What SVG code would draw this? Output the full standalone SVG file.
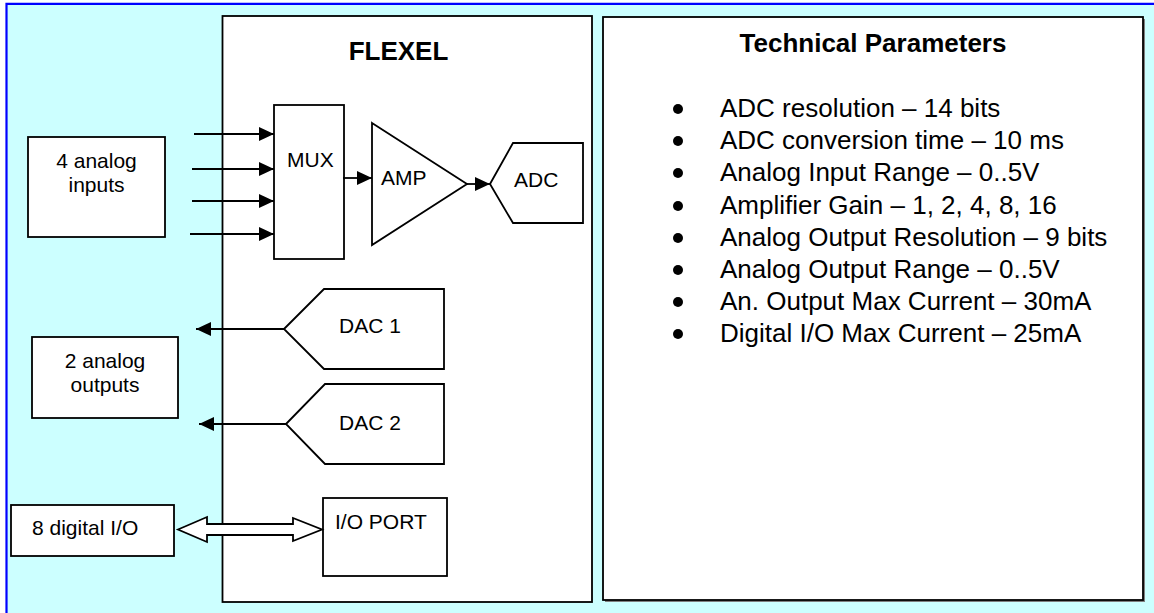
<svg xmlns="http://www.w3.org/2000/svg" width="1154" height="613" viewBox="0 0 1154 613">
<style>
.box{fill:#fff;stroke:#000;stroke-width:1.8}
.t{font-family:"Liberation Sans",Arial,sans-serif;font-size:21px;fill:#000}
.h{font-family:"Liberation Sans",Arial,sans-serif;font-size:26px;font-weight:bold;fill:#000}
.li{font-family:"Liberation Sans",Arial,sans-serif;font-size:26px;fill:#000}
.c{fill:none;stroke:#000;stroke-width:1.8}
</style>
<defs>
<marker id="ah" markerUnits="userSpaceOnUse" markerWidth="15" markerHeight="14" refX="15" refY="7" orient="auto">
<path d="M0,0 L15,7 L0,14 z" fill="#000"/>
</marker>
</defs>
<rect x="0" y="0" width="1154" height="613" fill="#fff"/>
<rect x="7" y="4" width="1147" height="609" fill="#CCFFFF"/>
<path d="M6.5,613 V3.8 H1154" fill="none" stroke="#0000FF" stroke-width="2.2"/>

<g id="flexel">
<rect class="box" x="222.5" y="16" width="369.5" height="586"/>
<text class="h" x="398.5" y="60" text-anchor="middle">FLEXEL</text>
</g>

<g id="tech">
<rect x="605" y="19" width="540" height="583" fill="#808080"/>
<rect class="box" x="603" y="17" width="540" height="583"/>
<text class="h" x="873" y="52" text-anchor="middle">Technical Parameters</text>
<g fill="#000">
<circle cx="678" cy="109" r="5"/>
<circle cx="678" cy="141" r="5"/>
<circle cx="678" cy="173" r="5"/>
<circle cx="678" cy="206" r="5"/>
<circle cx="678" cy="238" r="5"/>
<circle cx="678" cy="270" r="5"/>
<circle cx="678" cy="302" r="5"/>
<circle cx="678" cy="334" r="5"/>
</g>
<text class="li" x="720" y="117">ADC resolution – 14 bits</text>
<text class="li" x="720" y="149">ADC conversion time – 10 ms</text>
<text class="li" x="720" y="181">Analog Input Range – 0..5V</text>
<text class="li" x="720" y="214">Amplifier Gain – 1, 2, 4, 8, 16</text>
<text class="li" x="720" y="246">Analog Output Resolution – 9 bits</text>
<text class="li" x="720" y="278">Analog Output Range – 0..5V</text>
<text class="li" x="720" y="310">An. Output Max Current – 30mA</text>
<text class="li" x="720" y="342">Digital I/O Max Current – 25mA</text>
</g>

<g id="analog-inputs">
<rect class="box" x="28" y="137" width="137" height="100"/>
<text class="t" x="96.5" y="168" text-anchor="middle">4 analog</text>
<text class="t" x="96.5" y="192" text-anchor="middle">inputs</text>
</g>

<g id="analog-outputs">
<rect class="box" x="32" y="337" width="146" height="81"/>
<text class="t" x="105" y="368" text-anchor="middle">2 analog</text>
<text class="t" x="105" y="392" text-anchor="middle">outputs</text>
</g>

<g id="digital-io">
<rect class="box" x="11" y="505" width="163" height="51"/>
<text class="t" x="32" y="535">8 digital I/O</text>
</g>

<g id="mux">
<rect class="box" x="274" y="105" width="70" height="154"/>
<text class="t" x="287" y="167">MUX</text>
</g>

<g id="amp">
<path class="box" d="M372,123 L467,184 L372,245 Z"/>
<text class="t" x="381" y="185">AMP</text>
</g>

<g id="adc">
<path class="box" d="M490,184 L513,143 H583 V223 H513 Z"/>
<text class="t" x="514" y="187">ADC</text>
</g>

<g id="dac1">
<path class="box" d="M284,329 L324,289 H444 V369 H324 Z"/>
<text class="t" x="339" y="333">DAC 1</text>
</g>

<g id="dac2">
<path class="box" d="M286,424 L325,384 H444 V464 H325 Z"/>
<text class="t" x="339" y="430">DAC 2</text>
</g>

<g id="io-port">
<rect class="box" x="323" y="498" width="124" height="78"/>
<text class="t" x="335" y="529">I/O PORT</text>
</g>

<g id="connectors">
<path class="c" d="M194,134 H274" marker-end="url(#ah)"/>
<path class="c" d="M192,169 H274" marker-end="url(#ah)"/>
<path class="c" d="M192,201 H274" marker-end="url(#ah)"/>
<path class="c" d="M190,234 H274" marker-end="url(#ah)"/>
<path class="c" d="M343,178 H372" marker-end="url(#ah)"/>
<path class="c" d="M467,184 H490" marker-end="url(#ah)"/>
<path class="c" d="M284,329 H196" marker-end="url(#ah)"/>
<path class="c" d="M286,424 H199" marker-end="url(#ah)"/>
<path d="M178,529.5 L207,517 V524 H293 V518 L322,529.5 L293,541 V535 H207 V542 Z" fill="#fff" stroke="#000" stroke-width="1.8"/>
</g>
</svg>
